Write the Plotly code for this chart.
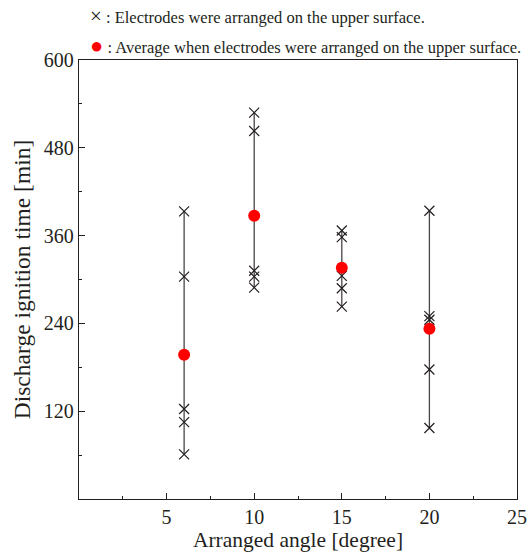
import plotly.graph_objects as go

angles = [6, 10, 15, 20]
times = {
    6: [393, 304, 123, 105, 61],
    10: [528, 503, 312, 304, 289],
    15: [367, 358, 305, 288, 263],
    20: [394, 250, 245, 177, 97],
}
x_ticks = [5, 10, 15, 20, 25]
y_ticks = [120, 240, 360, 480, 600]

INK = "#231f20"
FONT = "Liberation Serif"

fig = go.Figure()

# vertical range lines
lx, ly = [], []
for a in angles:
    lx += [a, a, None]
    ly += [min(times[a]), max(times[a]), None]
fig.add_trace(go.Scatter(x=lx, y=ly, mode="lines",
                         line=dict(color="#4a4445", width=1.3),
                         showlegend=False, hoverinfo="skip"))

# individual points
px, py = [], []
for a in angles:
    for v in times[a]:
        px.append(a)
        py.append(v)
fig.add_trace(go.Scatter(x=px, y=py, mode="markers",
                         marker=dict(symbol="x-thin", size=10,
                                     line=dict(color=INK, width=1.2)),
                         showlegend=False))

# averages
avg = [sum(times[a]) / len(times[a]) for a in angles]
fig.add_trace(go.Scatter(x=angles, y=avg, mode="markers",
                         marker=dict(symbol="circle", size=12, color="#ff0000"),
                         showlegend=False))

axis_common = dict(
    showgrid=False, zeroline=False, showline=True, linecolor=INK, linewidth=1.3,
    mirror=True, ticks="inside", ticklen=6, tickcolor=INK, tickwidth=1,
    tickfont=dict(family=FONT, size=20, color=INK), automargin=False,
)
fig.update_xaxes(range=[0, 25], tickvals=x_ticks,
                 minor=dict(ticks="inside", ticklen=3, dtick=2.5, tick0=0, tickcolor=INK),
                 title=dict(text="Arranged angle [degree]",
                            font=dict(family=FONT, size=21.5, color=INK), standoff=4),
                 **axis_common)
fig.update_yaxes(range=[0, 600], tickvals=y_ticks,
                 minor=dict(ticks="inside", ticklen=3, dtick=60, tick0=0, tickcolor=INK),
                 title=dict(text="Discharge ignition time [min]",
                            font=dict(family=FONT, size=23.5, color=INK), standoff=6),
                 **axis_common)

fig.add_annotation(xref="paper", yref="paper", x=0.02, y=1.1, xanchor="left", yanchor="middle",
                   text="<span style='font-size:21px'>×</span> : Electrodes were arranged on the upper surface.",
                   showarrow=False, font=dict(family=FONT, size=16.5, color=INK))
fig.add_annotation(xref="paper", yref="paper", x=0.02, y=1.032, xanchor="left", yanchor="middle",
                   text="<span style='color:#ff0000;font-size:22px'>●</span> : Average when electrodes were arranged on the upper surface.",
                   showarrow=False, font=dict(family=FONT, size=16.5, color=INK))

fig.update_layout(width=528, height=554, margin=dict(l=79, r=11, t=60, b=55),
                  plot_bgcolor="white", paper_bgcolor="white",
                  font=dict(family=FONT, color=INK))
fig.write_html("out.html", config={"displayModeBar": False},
               post_script="document.body.style.margin='0';document.body.style.overflow='hidden';")
